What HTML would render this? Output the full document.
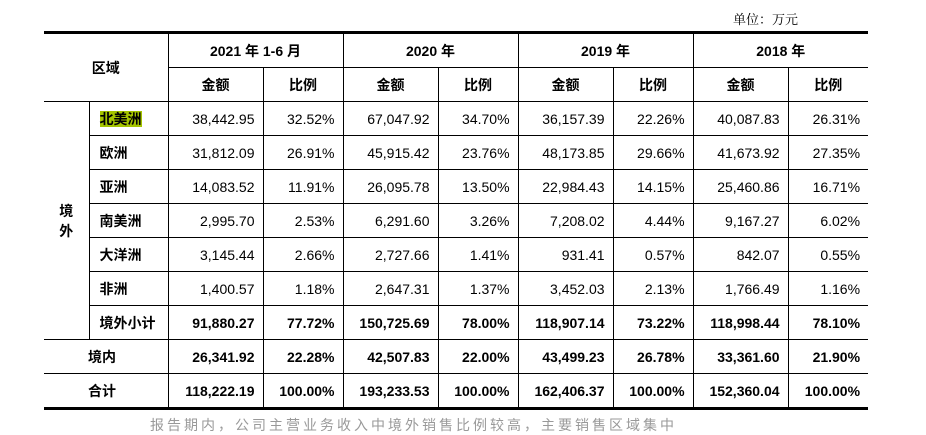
<!DOCTYPE html>
<html><head><meta charset="utf-8"><style>
body{margin:0;width:926px;height:423px;background:#fff;overflow:hidden;position:relative;font-family:"Liberation Sans","Noto Sans CJK SC",sans-serif;color:#000}
.unit{position:absolute;left:733px;top:9px;font-size:13px;font-family:"Liberation Serif","Noto Serif CJK SC",serif}
table{position:absolute;left:44px;top:31px;border-collapse:collapse;table-layout:fixed;width:824px;border-top:3px solid #000;border-bottom:3px solid #000}
td{border:1px solid #000;height:33px;padding:0 8px;font-size:14px;text-align:right;white-space:nowrap;overflow:hidden}
tr:first-child td{border-top:none}
td:first-child{border-left:none}td:last-child{border-right:none}
.h{text-align:center;font-weight:bold}
.c{text-align:left;font-weight:bold;padding-left:10px}
.b td{font-weight:bold}
.hl{background:#a4c400}
.foot{position:absolute;left:150px;top:415px;font-size:14px;color:#999;letter-spacing:3px}
</style></head><body>
<div class="unit">单位：万元</div>
<table>
<colgroup><col style="width:45px"><col style="width:79px"><col style="width:95px"><col style="width:80px"><col style="width:95px"><col style="width:80px"><col style="width:95px"><col style="width:80px"><col style="width:95px"><col style="width:80px"></colgroup>
<tr><td class="h" colspan="2" rowspan="2">区域</td><td class="h" colspan="2">2021 年 1-6 月</td><td class="h" colspan="2">2020 年</td><td class="h" colspan="2">2019 年</td><td class="h" colspan="2">2018 年</td></tr>
<tr><td class="h">金额</td><td class="h">比例</td><td class="h">金额</td><td class="h">比例</td><td class="h">金额</td><td class="h">比例</td><td class="h">金额</td><td class="h">比例</td></tr>
<tr><td class="h" rowspan="7" style="line-height:20px">境<br>外</td><td class="c"><span class="hl">北美洲</span></td><td>38,442.95</td><td>32.52%</td><td>67,047.92</td><td>34.70%</td><td>36,157.39</td><td>22.26%</td><td>40,087.83</td><td>26.31%</td></tr>
<tr><td class="c">欧洲</td><td>31,812.09</td><td>26.91%</td><td>45,915.42</td><td>23.76%</td><td>48,173.85</td><td>29.66%</td><td>41,673.92</td><td>27.35%</td></tr>
<tr><td class="c">亚洲</td><td>14,083.52</td><td>11.91%</td><td>26,095.78</td><td>13.50%</td><td>22,984.43</td><td>14.15%</td><td>25,460.86</td><td>16.71%</td></tr>
<tr><td class="c">南美洲</td><td>2,995.70</td><td>2.53%</td><td>6,291.60</td><td>3.26%</td><td>7,208.02</td><td>4.44%</td><td>9,167.27</td><td>6.02%</td></tr>
<tr><td class="c">大洋洲</td><td>3,145.44</td><td>2.66%</td><td>2,727.66</td><td>1.41%</td><td>931.41</td><td>0.57%</td><td>842.07</td><td>0.55%</td></tr>
<tr><td class="c">非洲</td><td>1,400.57</td><td>1.18%</td><td>2,647.31</td><td>1.37%</td><td>3,452.03</td><td>2.13%</td><td>1,766.49</td><td>1.16%</td></tr>
<tr class="b"><td class="c">境外小计</td><td>91,880.27</td><td>77.72%</td><td>150,725.69</td><td>78.00%</td><td>118,907.14</td><td>73.22%</td><td>118,998.44</td><td>78.10%</td></tr>
<tr class="b"><td class="c" colspan="2" style="padding-left:44px">境内</td><td>26,341.92</td><td>22.28%</td><td>42,507.83</td><td>22.00%</td><td>43,499.23</td><td>26.78%</td><td>33,361.60</td><td>21.90%</td></tr>
<tr class="b"><td class="c" colspan="2" style="padding-left:44px">合计</td><td>118,222.19</td><td>100.00%</td><td>193,233.53</td><td>100.00%</td><td>162,406.37</td><td>100.00%</td><td>152,360.04</td><td>100.00%</td></tr>
</table>
<div class="foot">报告期内，公司主营业务收入中境外销售比例较高，主要销售区域集中</div>
</body></html>
